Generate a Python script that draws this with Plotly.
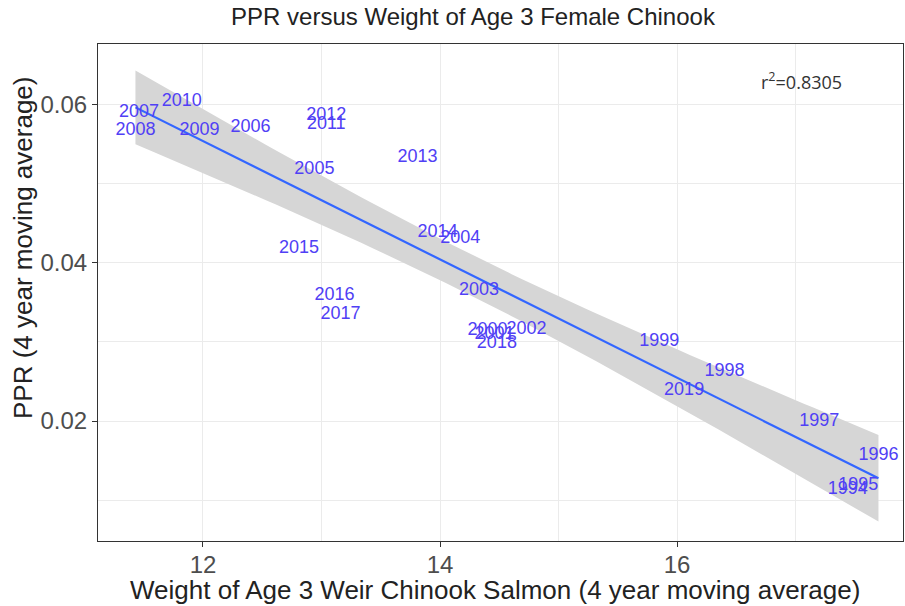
import numpy as np
import plotly.graph_objects as go

# ---- data ----
years = ["2007", "2008", "2010", "2009", "2006", "2012", "2011", "2005", "2013",
         "2014", "2004", "2015", "2016", "2017", "2003", "2000", "2001", "2002",
         "2018", "1999", "1998", "2019", "1997", "1996", "1995", "1994"]
weight = [11.46, 11.43, 11.82, 11.97, 12.40, 13.04, 13.04, 12.94, 13.81,
          13.98, 14.17, 12.81, 13.11, 13.16, 14.33, 14.40, 14.46, 14.73,
          14.48, 15.85, 16.40, 16.06, 17.20, 17.70, 17.53, 17.44]
ppr = [0.0589, 0.0567, 0.0603, 0.0567, 0.0570, 0.0586, 0.0574, 0.0518, 0.0533,
       0.0438, 0.0431, 0.0418, 0.0358, 0.0335, 0.0365, 0.0314, 0.0309, 0.0315,
       0.0298, 0.0301, 0.0263, 0.0238, 0.0200, 0.0156, 0.0119, 0.0114]
r2_text = "r<sup>2</sup>=0.8305"
x_ticks = [12, 14, 16]
y_ticks = [0.02, 0.04, 0.06]

# ---- linear fit with 95% confidence band (as geom_smooth(method="lm")) ----
x = np.array(weight)
y = np.array(ppr)
n = len(x)
slope, intercept = np.polyfit(x, y, 1)
resid = y - (slope * x + intercept)
s = np.sqrt(np.sum(resid ** 2) / (n - 2))
sxx = np.sum((x - x.mean()) ** 2)
t_crit = 2.064  # t(0.975, df=24)
xs = np.linspace(x.min(), x.max(), 80)
ys = slope * xs + intercept
se = s * np.sqrt(1 / n + (xs - x.mean()) ** 2 / sxx)
upper = ys + t_crit * se
lower = ys - t_crit * se

# ---- layout geometry (pixels) ----
W, H = 905, 606
L, R, T, B = 98, 2, 44, 65
pw = W - L - R
ph = H - T - B

fig = go.Figure()
fig.add_trace(go.Scatter(
    x=np.concatenate([xs, xs[::-1]]), y=np.concatenate([upper, lower[::-1]]),
    fill="toself", fillcolor="#D6D6D6", line=dict(width=0), mode="lines",
    hoverinfo="skip", showlegend=False))
fig.add_trace(go.Scatter(x=xs, y=ys, mode="lines",
                         line=dict(color="#3366FF", width=2.2), showlegend=False))
fig.add_trace(go.Scatter(x=weight, y=ppr, mode="text", text=years,
                         textposition="middle center", cliponaxis=False,
                         textfont=dict(family="Liberation Sans, Arial", size=18, color="#5040F5"),
                         showlegend=False))

axis_font = dict(family="Liberation Sans, Arial", size=24, color="#4D4D4D")
fig.update_xaxes(range=[11.114, 17.907], tickvals=x_ticks, ticktext=[str(v) for v in x_ticks],
                 showgrid=True, gridcolor="#EBEBEB", gridwidth=1,
                 minor=dict(dtick=1, tick0=11, showgrid=True, gridcolor="#EBEBEB", gridwidth=0.6),
                 ticks="outside", ticklen=5, tickcolor="#333333", tickwidth=1,
                 tickfont=axis_font, showline=True, linecolor="#333333", linewidth=1.2,
                 mirror=True, zeroline=False, automargin=False, ticklabelstandoff=-3)
fig.update_yaxes(range=[0.00486, 0.0676], tickvals=y_ticks, ticktext=["0.02", "0.04", "0.06"],
                 showgrid=True, gridcolor="#EBEBEB", gridwidth=1,
                 minor=dict(dtick=0.01, tick0=0, showgrid=True, gridcolor="#EBEBEB", gridwidth=0.6),
                 ticks="outside", ticklen=5, tickcolor="#333333", tickwidth=1,
                 tickfont=axis_font, showline=True, linecolor="#333333", linewidth=1.2,
                 mirror=True, zeroline=False, automargin=False)

title_font = dict(family="Liberation Sans, Arial", size=26, color="#222222")
fig.add_annotation(text="Weight of Age 3 Weir Chinook Salmon (4 year moving average)",
                   xref="paper", yref="paper", x=(495 - L) / pw, y=-(590 - T - ph) / ph,
                   xanchor="center", yanchor="middle", showarrow=False, font=title_font)
fig.add_annotation(text="PPR (4 year moving average)", textangle=-90,
                   xref="paper", yref="paper", x=(23 - L) / pw, y=1 - (248 - T) / ph,
                   xanchor="center", yanchor="middle", showarrow=False, font=title_font)
fig.add_annotation(text=r2_text, xref="paper", yref="paper",
                   x=(801 - L) / pw, y=1 - (81 - T) / ph, xanchor="center", yanchor="middle",
                   showarrow=False, font=dict(family="Open Sans", size=18, color="#333333"))

fig.update_layout(
    width=W, height=H,
    margin=dict(l=L, r=R, t=T, b=B, pad=0),
    paper_bgcolor="white", plot_bgcolor="white",
    title=dict(text="PPR versus Weight of Age 3 Female Chinook",
               x=473 / W, xanchor="center", y=1 - 17 / H, yanchor="middle",
               font=dict(family="Liberation Sans, Arial", size=24, color="#222222")),
    showlegend=False,
)

fig.write_html("out.html", config={"displayModeBar": False},
               post_script="document.body.style.margin='0';document.body.style.overflow='hidden';")
